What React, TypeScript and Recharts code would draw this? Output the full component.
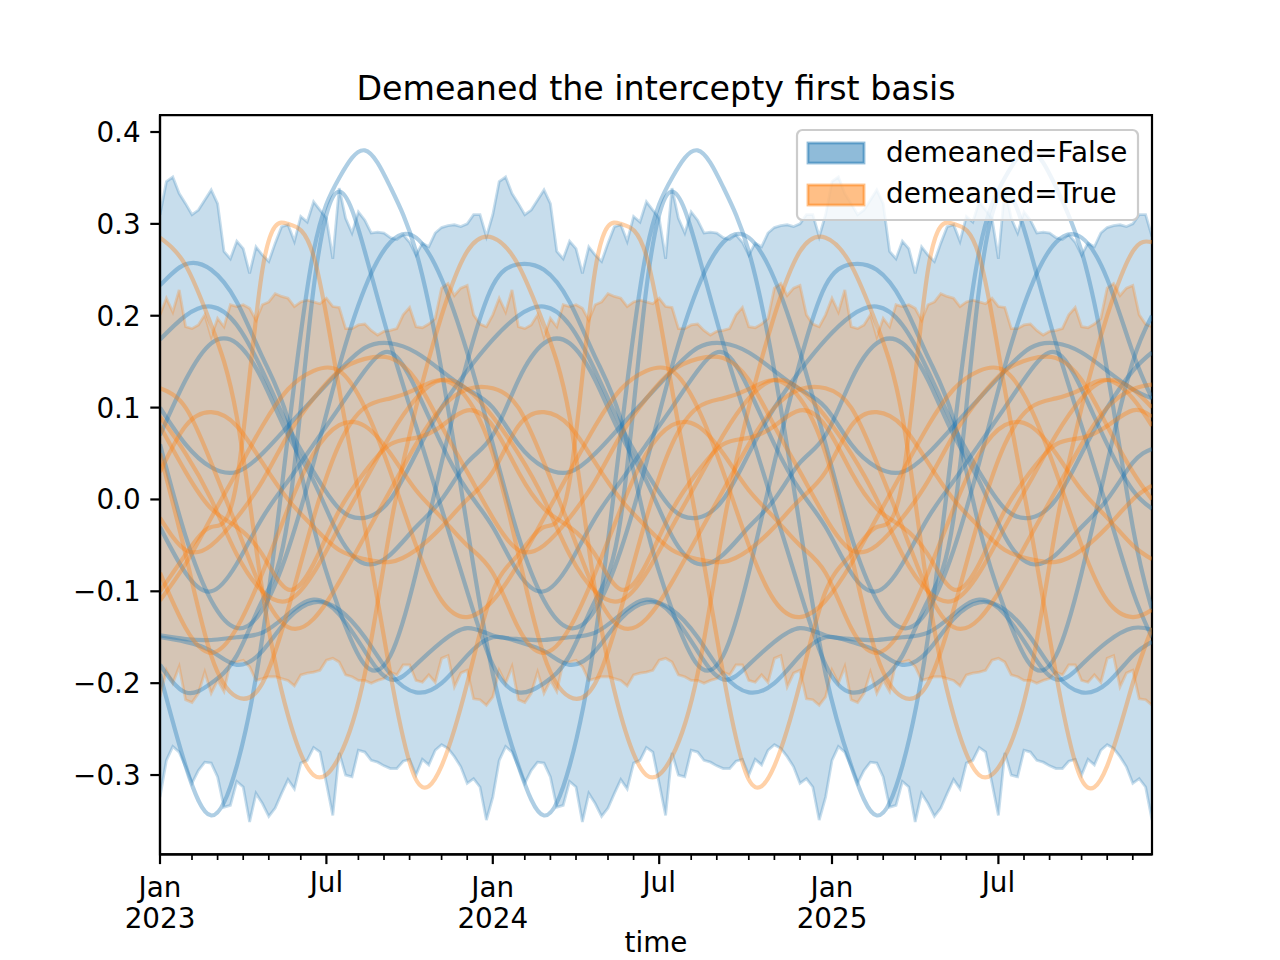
import { ComposedChart, Area, Line, XAxis, YAxis, ReferenceArea } from 'recharts';

// weekly periods, Jan 2023 .. Dec 2025
const WEEKS = Array.from({ length: 156 }, (_, i) => i);

const SAMPLE_WEEKS = [
  0, 4, 8, 12, 16, 20, 24, 28, 32, 36, 40, 44, 48,
  52, 56, 60, 64, 68, 72, 76, 80, 84, 88, 92, 96, 100,
  104, 108, 112, 116, 120, 124, 128, 132, 136, 140, 144, 148, 152, 155,
];

const MONTH_TICKS = [
  0, 5, 9, 13, 17, 22, 26, 31, 35, 39, 44, 48,
  52, 57, 61, 65, 70, 74, 78, 83, 87, 92, 96, 100,
  105, 109, 113, 118, 122, 126, 131, 135, 139, 144, 148, 152,
];
const MAJOR_TICKS = [0, 26, 52, 78, 105, 131];
const MAJOR_LABELS = ['Jan\n2023', 'Jul', 'Jan\n2024', 'Jul', 'Jan\n2025', 'Jul'];

const Y_TICKS = [-0.3, -0.2, -0.1, 0, 0.1, 0.2, 0.3, 0.4];
const Y_MIN = -0.3864;
const Y_MAX = 0.4183;

// hdi band, demeaned=False
const BLUE_HI = [
  0.31, 0.346, 0.351, 0.333, 0.322, 0.31, 0.315, 0.326, 0.337, 0.322, 0.27, 0.262, 0.281, 0.273, 0.246, 0.275, 0.266, 0.259, 0.279, 0.297,
  0.299, 0.281, 0.308, 0.302, 0.324, 0.315, 0.306, 0.262, 0.339, 0.306, 0.29, 0.313, 0.304, 0.29, 0.291, 0.29, 0.285, 0.283, 0.288, 0.28,
  0.266, 0.279, 0.275, 0.29, 0.296, 0.298, 0.299, 0.297, 0.3, 0.31, 0.31, 0.286,
  0.31, 0.346, 0.351, 0.333, 0.322, 0.31, 0.315, 0.326, 0.337, 0.322, 0.27, 0.262, 0.281, 0.273, 0.246, 0.275, 0.266, 0.259, 0.279, 0.297,
  0.299, 0.281, 0.308, 0.302, 0.324, 0.315, 0.306, 0.262, 0.339, 0.306, 0.29, 0.313, 0.304, 0.29, 0.291, 0.29, 0.285, 0.283, 0.288, 0.28,
  0.266, 0.279, 0.275, 0.29, 0.296, 0.298, 0.299, 0.297, 0.3, 0.31, 0.31, 0.286,
  0.31, 0.346, 0.351, 0.333, 0.322, 0.31, 0.315, 0.326, 0.337, 0.322, 0.27, 0.262, 0.281, 0.273, 0.246, 0.275, 0.266, 0.259, 0.279, 0.297,
  0.299, 0.281, 0.308, 0.302, 0.324, 0.315, 0.306, 0.262, 0.339, 0.306, 0.29, 0.313, 0.304, 0.29, 0.291, 0.29, 0.285, 0.283, 0.288, 0.28,
  0.266, 0.279, 0.275, 0.29, 0.296, 0.298, 0.299, 0.297, 0.3, 0.31, 0.31, 0.286,
];
const BLUE_LO = [
  -0.324, -0.284, -0.269, -0.275, -0.291, -0.309, -0.295, -0.286, -0.287, -0.302, -0.335, -0.333, -0.307, -0.313, -0.351, -0.32, -0.331, -0.345, -0.336, -0.32,
  -0.305, -0.315, -0.287, -0.284, -0.27, -0.275, -0.309, -0.344, -0.276, -0.3, -0.302, -0.273, -0.275, -0.284, -0.286, -0.29, -0.293, -0.293, -0.285, -0.283,
  -0.3, -0.283, -0.289, -0.273, -0.267, -0.271, -0.28, -0.291, -0.309, -0.304, -0.313, -0.349,
  -0.324, -0.284, -0.269, -0.275, -0.291, -0.309, -0.295, -0.286, -0.287, -0.302, -0.335, -0.333, -0.307, -0.313, -0.351, -0.32, -0.331, -0.345, -0.336, -0.32,
  -0.305, -0.315, -0.287, -0.284, -0.27, -0.275, -0.309, -0.344, -0.276, -0.3, -0.302, -0.273, -0.275, -0.284, -0.286, -0.29, -0.293, -0.293, -0.285, -0.283,
  -0.3, -0.283, -0.289, -0.273, -0.267, -0.271, -0.28, -0.291, -0.309, -0.304, -0.313, -0.349,
  -0.324, -0.284, -0.269, -0.275, -0.291, -0.309, -0.295, -0.286, -0.287, -0.302, -0.335, -0.333, -0.307, -0.313, -0.351, -0.32, -0.331, -0.345, -0.336, -0.32,
  -0.305, -0.315, -0.287, -0.284, -0.27, -0.275, -0.309, -0.344, -0.276, -0.3, -0.302, -0.273, -0.275, -0.284, -0.286, -0.29, -0.293, -0.293, -0.285, -0.283,
  -0.3, -0.283, -0.289, -0.273, -0.267, -0.271, -0.28, -0.291, -0.309, -0.304, -0.313, -0.349,
];

// hdi band, demeaned=True
const ORANGE_HI = [
  0.201, 0.219, 0.204, 0.228, 0.188, 0.186, 0.19, 0.201, 0.177, 0.197, 0.188, 0.212, 0.21, 0.212, 0.208, 0.195, 0.212, 0.215, 0.224, 0.221,
  0.219, 0.21, 0.215, 0.217, 0.215, 0.213, 0.219, 0.21, 0.209, 0.186, 0.186, 0.19, 0.191, 0.184, 0.179, 0.183, 0.184, 0.186, 0.201, 0.209,
  0.188, 0.187, 0.191, 0.197, 0.23, 0.235, 0.222, 0.23, 0.233, 0.201, 0.191, 0.188,
  0.201, 0.219, 0.204, 0.228, 0.188, 0.186, 0.19, 0.201, 0.177, 0.197, 0.188, 0.212, 0.21, 0.212, 0.208, 0.195, 0.212, 0.215, 0.224, 0.221,
  0.219, 0.21, 0.215, 0.217, 0.215, 0.213, 0.219, 0.21, 0.209, 0.186, 0.186, 0.19, 0.191, 0.184, 0.179, 0.183, 0.184, 0.186, 0.201, 0.209,
  0.188, 0.187, 0.191, 0.197, 0.23, 0.235, 0.222, 0.23, 0.233, 0.201, 0.191, 0.188,
  0.201, 0.219, 0.204, 0.228, 0.188, 0.186, 0.19, 0.201, 0.177, 0.197, 0.188, 0.212, 0.21, 0.212, 0.208, 0.195, 0.212, 0.215, 0.224, 0.221,
  0.219, 0.21, 0.215, 0.217, 0.215, 0.213, 0.219, 0.21, 0.209, 0.186, 0.186, 0.19, 0.191, 0.184, 0.179, 0.183, 0.184, 0.186, 0.201, 0.209,
  0.188, 0.187, 0.191, 0.197, 0.23, 0.235, 0.222, 0.23, 0.233, 0.201, 0.191, 0.188,
];
const ORANGE_LO = [
  -0.215, -0.186, -0.2, -0.182, -0.218, -0.221, -0.211, -0.188, -0.211, -0.197, -0.209, -0.177, -0.177, -0.175, -0.182, -0.197, -0.195, -0.193, -0.193, -0.195,
  -0.197, -0.203, -0.191, -0.189, -0.188, -0.186, -0.175, -0.173, -0.177, -0.191, -0.193, -0.197, -0.197, -0.2, -0.197, -0.195, -0.188, -0.191, -0.18, -0.18,
  -0.197, -0.199, -0.191, -0.199, -0.173, -0.17, -0.204, -0.189, -0.186, -0.217, -0.218, -0.224,
  -0.215, -0.186, -0.2, -0.182, -0.218, -0.221, -0.211, -0.188, -0.211, -0.197, -0.209, -0.177, -0.177, -0.175, -0.182, -0.197, -0.195, -0.193, -0.193, -0.195,
  -0.197, -0.203, -0.191, -0.189, -0.188, -0.186, -0.175, -0.173, -0.177, -0.191, -0.193, -0.197, -0.197, -0.2, -0.197, -0.195, -0.188, -0.191, -0.18, -0.18,
  -0.197, -0.199, -0.191, -0.199, -0.173, -0.17, -0.204, -0.189, -0.186, -0.217, -0.218, -0.224,
  -0.215, -0.186, -0.2, -0.182, -0.218, -0.221, -0.211, -0.188, -0.211, -0.197, -0.209, -0.177, -0.177, -0.175, -0.182, -0.197, -0.195, -0.193, -0.193, -0.195,
  -0.197, -0.203, -0.191, -0.189, -0.188, -0.186, -0.175, -0.173, -0.177, -0.191, -0.193, -0.197, -0.197, -0.2, -0.197, -0.195, -0.188, -0.191, -0.18, -0.18,
  -0.197, -0.199, -0.191, -0.199, -0.173, -0.17, -0.204, -0.189, -0.186, -0.217, -0.218, -0.224,
];

// sample curves, demeaned=False (values at SAMPLE_WEEKS)
const BLUE_1 = [
  -0.19, -0.29, -0.344, -0.29, -0.15, 0.07, 0.27, 0.35, 0.38, 0.34, 0.27, 0.14, -0.03,
  -0.19, -0.29, -0.344, -0.29, -0.15, 0.07, 0.27, 0.35, 0.38, 0.34, 0.27, 0.14, -0.03,
  -0.19, -0.29, -0.344, -0.29, -0.15, 0.07, 0.27, 0.35, 0.38, 0.34, 0.27, 0.14, -0.03, -0.12,
];
const BLUE_2 = [
  -0.18, -0.21, -0.2, -0.17, -0.11, -0.02, 0.23, 0.335, 0.27, 0.17, 0.08, -0.01, -0.1,
  -0.18, -0.21, -0.2, -0.17, -0.11, -0.02, 0.23, 0.335, 0.27, 0.17, 0.08, -0.01, -0.1,
  -0.18, -0.21, -0.2, -0.17, -0.11, -0.02, 0.23, 0.335, 0.27, 0.17, 0.08, -0.01, -0.1, -0.15,
];
const BLUE_3 = [
  0.233, 0.256, 0.25, 0.215, 0.155, 0.087, -0.03, -0.12, -0.18, -0.17, -0.08, 0.04, 0.15,
  0.233, 0.256, 0.25, 0.215, 0.155, 0.087, -0.03, -0.12, -0.18, -0.17, -0.08, 0.04, 0.15,
  0.233, 0.256, 0.25, 0.215, 0.155, 0.087, -0.03, -0.12, -0.18, -0.17, -0.08, 0.04, 0.15, 0.2,
];
const BLUE_4 = [
  0.06, -0.04, -0.11, -0.14, -0.12, -0.055, 0.04, 0.145, 0.23, 0.28, 0.285, 0.24, 0.16,
  0.06, -0.04, -0.11, -0.14, -0.12, -0.055, 0.04, 0.145, 0.23, 0.28, 0.285, 0.24, 0.16,
  0.06, -0.04, -0.11, -0.14, -0.12, -0.055, 0.04, 0.145, 0.23, 0.28, 0.285, 0.24, 0.16, 0.11,
];
const BLUE_5 = [
  0.1, 0.06, 0.035, 0.03, 0.05, 0.08, 0.11, 0.14, 0.165, 0.17, 0.16, 0.14, 0.12,
  0.1, 0.06, 0.035, 0.03, 0.05, 0.08, 0.11, 0.14, 0.165, 0.17, 0.16, 0.14, 0.12,
  0.1, 0.06, 0.035, 0.03, 0.05, 0.08, 0.11, 0.14, 0.165, 0.17, 0.16, 0.14, 0.12, 0.11,
];
const BLUE_6 = [
  0.174, 0.2, 0.21, 0.19, 0.14, 0.08, 0.03, -0.01, -0.02, 0, 0.05, 0.1, 0.14,
  0.174, 0.2, 0.21, 0.19, 0.14, 0.08, 0.03, -0.01, -0.02, 0, 0.05, 0.1, 0.14,
  0.174, 0.2, 0.21, 0.19, 0.14, 0.08, 0.03, -0.01, -0.02, 0, 0.05, 0.1, 0.14, 0.16,
];
const BLUE_7 = [
  0.07, 0.13, 0.17, 0.17, 0.13, 0.07, 0.02, -0.04, -0.07, -0.06, -0.03, 0, 0.04,
  0.07, 0.13, 0.17, 0.17, 0.13, 0.07, 0.02, -0.04, -0.07, -0.06, -0.03, 0, 0.04,
  0.07, 0.13, 0.17, 0.17, 0.13, 0.07, 0.02, -0.04, -0.07, -0.06, -0.03, 0, 0.04, 0.055,
];
const BLUE_8 = [
  -0.03, -0.08, -0.1, -0.07, -0.02, 0.02, 0.06, 0.1, 0.14, 0.16, 0.12, 0.06, 0.01,
  -0.03, -0.08, -0.1, -0.07, -0.02, 0.02, 0.06, 0.1, 0.14, 0.16, 0.12, 0.06, 0.01,
  -0.03, -0.08, -0.1, -0.07, -0.02, 0.02, 0.06, 0.1, 0.14, 0.16, 0.12, 0.06, 0.01, -0.01,
];
const BLUE_9 = [
  -0.148, -0.152, -0.153, -0.15, -0.145, -0.125, -0.109, -0.125, -0.165, -0.196, -0.18, -0.155, -0.14,
  -0.148, -0.152, -0.153, -0.15, -0.145, -0.125, -0.109, -0.125, -0.165, -0.196, -0.18, -0.155, -0.14,
  -0.148, -0.152, -0.153, -0.15, -0.145, -0.125, -0.109, -0.125, -0.165, -0.196, -0.18, -0.155, -0.14, -0.142,
];
const BLUE_10 = [
  -0.15, -0.155, -0.165, -0.18, -0.165, -0.13, -0.112, -0.12, -0.15, -0.19, -0.21, -0.2, -0.17,
  -0.15, -0.155, -0.165, -0.18, -0.165, -0.13, -0.112, -0.12, -0.15, -0.19, -0.21, -0.2, -0.17,
  -0.15, -0.155, -0.165, -0.18, -0.165, -0.13, -0.112, -0.12, -0.15, -0.19, -0.21, -0.2, -0.17, -0.155,
];

// sample curves, demeaned=True
const ORANGE_1 = [
  -0.1, -0.06, -0.03, 0.02, 0.25, 0.3, 0.265, 0.12, -0.03, -0.19, -0.305, -0.29, -0.2,
  -0.1, -0.06, -0.03, 0.02, 0.25, 0.3, 0.265, 0.12, -0.03, -0.19, -0.305, -0.29, -0.2,
  -0.1, -0.06, -0.03, 0.02, 0.25, 0.3, 0.265, 0.12, -0.03, -0.19, -0.305, -0.29, -0.2, -0.14,
];
const ORANGE_2 = [
  0.285, 0.255, 0.19, 0.09, -0.1, -0.235, -0.3, -0.28, -0.19, -0.03, 0.1, 0.2, 0.27,
  0.285, 0.255, 0.19, 0.09, -0.1, -0.235, -0.3, -0.28, -0.19, -0.03, 0.1, 0.2, 0.27,
  0.285, 0.255, 0.19, 0.09, -0.1, -0.235, -0.3, -0.28, -0.19, -0.03, 0.1, 0.2, 0.27, 0.28,
];
const ORANGE_3 = [
  0.05, -0.06, -0.17, -0.215, -0.2, -0.12, -0.02, 0.06, 0.1, 0.11, 0.12, 0.13, 0.11,
  0.05, -0.06, -0.17, -0.215, -0.2, -0.12, -0.02, 0.06, 0.1, 0.11, 0.12, 0.13, 0.11,
  0.05, -0.06, -0.17, -0.215, -0.2, -0.12, -0.02, 0.06, 0.1, 0.11, 0.12, 0.13, 0.11, 0.08,
];
const ORANGE_4 = [
  -0.02, -0.055, -0.05, -0.02, 0.02, 0.07, 0.11, 0.14, 0.153, 0.154, 0.13, 0.08, 0.03,
  -0.02, -0.055, -0.05, -0.02, 0.02, 0.07, 0.11, 0.14, 0.153, 0.154, 0.13, 0.08, 0.03,
  -0.02, -0.055, -0.05, -0.02, 0.02, 0.07, 0.11, 0.14, 0.153, 0.154, 0.13, 0.08, 0.03, 0,
];
const ORANGE_5 = [
  -0.11, -0.07, -0.02, 0.03, 0.08, 0.12, 0.14, 0.14, 0.1, 0.03, -0.05, -0.11, -0.128,
  -0.11, -0.07, -0.02, 0.03, 0.08, 0.12, 0.14, 0.14, 0.1, 0.03, -0.05, -0.11, -0.128,
  -0.11, -0.07, -0.02, 0.03, 0.08, 0.12, 0.14, 0.14, 0.1, 0.03, -0.05, -0.11, -0.128, -0.12,
];
const ORANGE_6 = [
  0.121, 0.1, 0.04, -0.03, -0.1, -0.139, -0.13, -0.09, -0.04, 0.01, 0.06, 0.1, 0.12,
  0.121, 0.1, 0.04, -0.03, -0.1, -0.139, -0.13, -0.09, -0.04, 0.01, 0.06, 0.1, 0.12,
  0.121, 0.1, 0.04, -0.03, -0.1, -0.139, -0.13, -0.09, -0.04, 0.01, 0.06, 0.1, 0.12, 0.125,
];
const ORANGE_7 = [
  0.03, 0.08, 0.095, 0.08, 0.04, 0, -0.03, -0.055, -0.065, -0.068, -0.055, -0.03, 0,
  0.03, 0.08, 0.095, 0.08, 0.04, 0, -0.03, -0.055, -0.065, -0.068, -0.055, -0.03, 0,
  0.03, 0.08, 0.095, 0.08, 0.04, 0, -0.03, -0.055, -0.065, -0.068, -0.055, -0.03, 0, 0.015,
];
const ORANGE_8 = [
  0.08, 0.03, -0.01, -0.03, -0.06, -0.098, -0.07, -0.012, 0.03, 0.06, 0.067, 0.08, 0.097,
  0.08, 0.03, -0.01, -0.03, -0.06, -0.098, -0.07, -0.012, 0.03, 0.06, 0.067, 0.08, 0.097,
  0.08, 0.03, -0.01, -0.03, -0.06, -0.098, -0.07, -0.012, 0.03, 0.06, 0.067, 0.08, 0.097, 0.09,
];
const ORANGE_9 = [
  -0.08, -0.14, -0.167, -0.14, -0.08, -0.01, 0.05, 0.081, 0.08, 0.05, 0.01, -0.02, -0.05,
  -0.08, -0.14, -0.167, -0.14, -0.08, -0.01, 0.05, 0.081, 0.08, 0.05, 0.01, -0.02, -0.05,
  -0.08, -0.14, -0.167, -0.14, -0.08, -0.01, 0.05, 0.081, 0.08, 0.05, 0.01, -0.02, -0.05, -0.065,
];
const ORANGE_10 = [
  0.09, 0.05, 0, -0.06, -0.1, -0.11, -0.08, -0.03, 0.02, 0.07, 0.11, 0.13, 0.12,
  0.09, 0.05, 0, -0.06, -0.1, -0.11, -0.08, -0.03, 0.02, 0.07, 0.11, 0.13, 0.12,
  0.09, 0.05, 0, -0.06, -0.1, -0.11, -0.08, -0.03, 0.02, 0.07, 0.11, 0.13, 0.12, 0.1,
];

const BLUE_LINES = [BLUE_1, BLUE_2, BLUE_3, BLUE_4, BLUE_5, BLUE_6, BLUE_7, BLUE_8, BLUE_9, BLUE_10];
const ORANGE_LINES = [ORANGE_1, ORANGE_2, ORANGE_3, ORANGE_4, ORANGE_5, ORANGE_6, ORANGE_7, ORANGE_8, ORANGE_9, ORANGE_10];

const C0 = '#1f77b4';
const C1 = '#ff7f0e';
const FONT = 'DejaVu Sans, sans-serif';

const data = WEEKS.map((w, i) => {
  const row: Record<string, any> = {
    week: w,
    blueBand: [BLUE_LO[i], BLUE_HI[i]],
    orangeBand: [ORANGE_LO[i], ORANGE_HI[i]],
  };
  const s = SAMPLE_WEEKS.indexOf(w);
  if (s >= 0) {
    BLUE_LINES.forEach((arr, k) => (row[`b${k}`] = arr[s]));
    ORANGE_LINES.forEach((arr, k) => (row[`o${k}`] = arr[s]));
  }
  return row;
});

function MonthTick(props: any) {
  const { x, y, payload } = props;
  const k = MAJOR_TICKS.indexOf(payload.value);
  const major = k >= 0;
  const parts = major ? MAJOR_LABELS[k].split('\n') : [];
  return (
    <g>
      <line x1={x} x2={x} y1={y} y2={y + (major ? 9.7 : 5.6)} stroke="#000" strokeWidth={major ? 2.2 : 1.7} />
      {parts.map((s, j) => (
        <text
          key={j}
          x={x}
          y={y + (j === 0 ? (parts.length === 1 ? 38 : 43) : 74)}
          textAnchor="middle"
          fontSize={27.8}
          fontFamily={FONT}
          fill="#000"
        >
          {s}
        </text>
      ))}
    </g>
  );
}

function ValueTick(props: any) {
  const { x, y, payload } = props;
  const v = payload.value as number;
  const label = v < 0 ? '\u2212' + Math.abs(v).toFixed(1) : v.toFixed(1);
  return (
    <text x={x} y={y + 10} textAnchor="end" fontSize={27.8} fontFamily={FONT} fill="#000">
      {label}
    </text>
  );
}

export default function App() {
  return (
    <div style={{ position: 'relative', width: 1264, height: 944 }}>
      <ComposedChart
        width={1264}
        height={944}
        data={data}
        margin={{ top: 107.2, right: 120, bottom: 37.6, left: 92 }}
      >
        <XAxis
          dataKey="week"
          type="number"
          domain={[0, 155]}
          allowDataOverflow
          ticks={MONTH_TICKS}
          interval={0}
          height={60}
          tickSize={0}
          tickMargin={0}
          tickLine={false}
          tick={MonthTick}
          axisLine={{ stroke: '#000', strokeWidth: 2.2 }}
        />
        <YAxis
          type="number"
          domain={[Y_MIN, Y_MAX]}
          allowDataOverflow
          ticks={Y_TICKS}
          interval={0}
          width={60}
          tickSize={9.7}
          tickMargin={9.7}
          tickLine={{ stroke: '#000', strokeWidth: 2.2 }}
          tick={ValueTick}
          axisLine={{ stroke: '#000', strokeWidth: 2.2 }}
        />
        <Area
          dataKey="blueBand"
          type="linear"
          fill={C0}
          fillOpacity={0.25}
          stroke={C0}
          strokeOpacity={0.25}
          strokeWidth={2.8}
          dot={false}
          activeDot={false}
          isAnimationActive={false}
        />
        <Area
          dataKey="orangeBand"
          type="linear"
          fill={C1}
          fillOpacity={0.25}
          stroke={C1}
          strokeOpacity={0.25}
          strokeWidth={2.8}
          dot={false}
          activeDot={false}
          isAnimationActive={false}
        />
        {BLUE_LINES.map((_, k) => (
          <Line
            key={`b${k}`}
            dataKey={`b${k}`}
            type="natural"
            connectNulls
            stroke={C0}
            strokeOpacity={0.36}
            strokeWidth={4.2}
            dot={false}
            activeDot={false}
            isAnimationActive={false}
          />
        ))}
        {ORANGE_LINES.map((_, k) => (
          <Line
            key={`o${k}`}
            dataKey={`o${k}`}
            type="natural"
            connectNulls
            stroke={C1}
            strokeOpacity={0.36}
            strokeWidth={4.2}
            dot={false}
            activeDot={false}
            isAnimationActive={false}
          />
        ))}
        <ReferenceArea
          x1={0}
          x2={155}
          y1={Y_MIN}
          y2={Y_MAX}
          fill="none"
          stroke="#000"
          strokeWidth={2.2}
          ifOverflow="visible"
        />
      </ComposedChart>
      <svg
        width={1272}
        height={952}
        style={{ position: 'absolute', left: 0, top: 0, pointerEvents: 'none' }}
      >
        <text x={648} y={91.5} textAnchor="middle" fontSize={33.3} fontFamily={FONT} fill="#000">
          Demeaned the intercepty first basis
        </text>
        <rect x={789} y={122} width={341} height={90} rx={5.5} fill="#fff" fillOpacity={0.8} stroke="#cccccc" strokeWidth={2.2} />
        <rect x={800} y={135} width={56} height={20} fill={C0} fillOpacity={0.5} stroke={C0} strokeOpacity={0.5} strokeWidth={2.8} />
        <rect x={800} y={177} width={56} height={20} fill={C1} fillOpacity={0.5} stroke={C1} strokeOpacity={0.5} strokeWidth={2.8} />
        <text x={878} y={153.7} fontSize={27.8} fontFamily={FONT} fill="#000">
          demeaned=False
        </text>
        <text x={878} y={195} fontSize={27.8} fontFamily={FONT} fill="#000">
          demeaned=True
        </text>
        <text x={648} y={944} textAnchor="middle" fontSize={27.8} fontFamily={FONT} fill="#000">
          time
        </text>
      </svg>
    </div>
  );
}
